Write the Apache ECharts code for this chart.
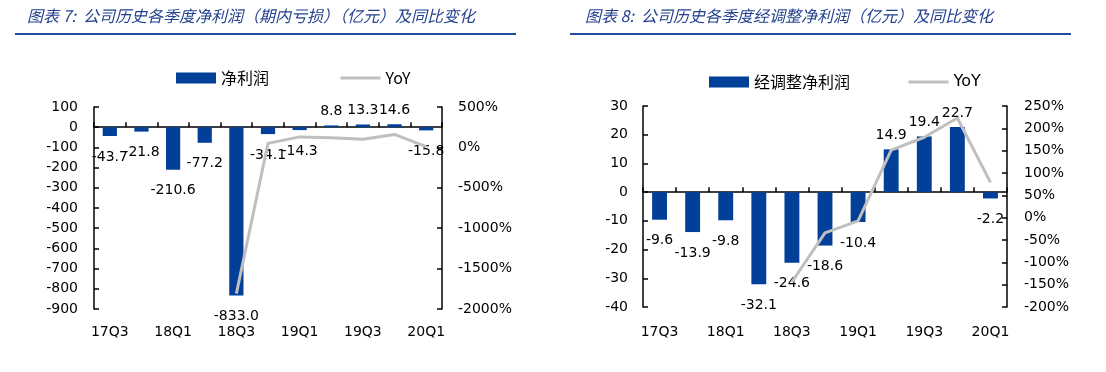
<!DOCTYPE html>
<html>
<head>
<meta charset="utf-8">
<script src="https://cdn.jsdelivr.net/npm/echarts@6/dist/echarts.min.js"></script>
<style>
html,body{margin:0;padding:0;background:#fff;}
#c{width:1106px;height:372px;}
</style>
</head>
<body>
<div id="c"></div>
<script>
// ---- data ----
const categories = ['17Q3','17Q4','18Q1','18Q2','18Q3','18Q4','19Q1','19Q2','19Q3','19Q4','20Q1'];
const netProfit = [-43.7, -21.8, -210.6, -77.2, -833.0, -34.1, -14.3, 8.8, 13.3, 14.6, -15.8];
const netProfitYoY = [null, null, null, null, -1810, 50, 130, 120, 100, 160, 10];
const adjProfit = [-9.6, -13.9, -9.8, -32.1, -24.6, -18.6, -10.4, 14.9, 19.4, 22.7, -2.2];
const adjProfitYoY = [null, null, null, null, -144, -34, -7, 151, 180, 223, 79];
const chart1LeftTicks = [-900, -800, -700, -600, -500, -400, -300, -200, -100, 0, 100];
const chart1RightTicks = [-2000, -1500, -1000, -500, 0, 500];
const chart2LeftTicks = [-40, -30, -20, -10, 0, 10, 20, 30];
const chart2RightTicks = [-200, -150, -100, -50, 0, 50, 100, 150, 200, 250];
const title1 = '图表 7:  公司历史各季度净利润（期内亏损）（亿元）及同比变化';
const title2 = '图表 8:  公司历史各季度经调整净利润（亿元）及同比变化';
const barName1 = '净利润';
const barName2 = '经调整净利润';
const lineName = 'YoY';

// ---- styles ----
const BAR = '#023F99';
const LINE = '#BFBFBF';
const TITLE = '#23418F';
const FONT = '"DejaVu Sans", Verdana, sans-serif';
const CJK = '"Noto Sans CJK SC", "Noto Sans", sans-serif';

function range(t){ return {min: t[0], max: t[t.length-1], interval: t[1]-t[0]}; }

function valueAxis(grid, ticks, pos, fmt, margin){
  const r = range(ticks);
  return {
    type: 'value', gridIndex: grid, position: pos,
    min: r.min, max: r.max, interval: r.interval,
    splitLine: {show: false},
    axisLine: {show: true, lineStyle: {color: '#000', width: 1.5}},
    axisTick: {show: true, inside: true, length: 5, lineStyle: {color: '#000', width: 1.5}},
    axisLabel: {color: '#000', fontSize: 14, fontFamily: FONT, margin: margin, formatter: fmt}
  };
}
function zeroAxis(grid, yIndex){
  return {
    type: 'category', gridIndex: grid, data: categories, position: 'bottom',
    axisLine: {show: true, onZero: true, onZeroAxisIndex: yIndex, lineStyle: {color: '#000', width: 1.5}},
    axisTick: {show: true, inside: true, length: 5, interval: 0, lineStyle: {color: '#000', width: 1.5}},
    axisLabel: {show: false}
  };
}
function labelAxis(grid, margin){
  return {
    type: 'category', gridIndex: grid, data: categories, position: 'bottom',
    axisLine: {show: false, onZero: false}, axisTick: {show: false},
    axisLabel: {show: true, interval: 1, color: '#000', fontSize: 14, fontFamily: FONT, margin: margin}
  };
}
function barData(vals, dNeg, dPos){
  return vals.map(v => ({
    value: v,
    label: {position: v < 0 ? 'bottom' : 'top', distance: v < 0 ? dNeg : dPos}
  }));
}
function barSeries(name, vals, xi, yi){
  return {
    name: name, type: 'bar', xAxisIndex: xi, yAxisIndex: yi,
    data: barData(vals, 14, 7), barWidth: '45%',
    itemStyle: {color: BAR},
    label: {show: true, color: '#000', fontSize: 14, fontFamily: FONT,
      formatter: p => Number(p.value).toFixed(1)},
    z: 2
  };
}
function lineSeries(vals, xi, yi){
  return {
    name: lineName, type: 'line', xAxisIndex: xi, yAxisIndex: yi,
    data: vals, symbol: 'none', connectNulls: false,
    lineStyle: {color: LINE, width: 3}, itemStyle: {color: LINE}, z: 3
  };
}
const pct = v => v + '%';
const yoyLegendItem = {name: lineName, itemStyle: {opacity: 0}, lineStyle: {width: 3, color: LINE}};

const option = {
  animation: false,
  backgroundColor: '#fff',
  graphic: [
    {type: 'text', left: 27, top: 8, style: {text: title1, fill: TITLE, font: 'italic 16px ' + CJK}},
    {type: 'rect', shape: {x: 15, y: 33, width: 501, height: 2}, style: {fill: '#1F4C9B'}},
    {type: 'text', left: 585, top: 8, style: {text: title2, fill: TITLE, font: 'italic 16px ' + CJK}},
    {type: 'rect', shape: {x: 570, y: 33, width: 501, height: 2}, style: {fill: '#1F4C9B'}}
  ],
  legend: [
    {left: 171, top: 65, itemWidth: 40, itemHeight: 11, itemGap: 70,
     data: [{name: barName1, icon: 'rect'}, yoyLegendItem],
     textStyle: {fontSize: 16, color: '#000', fontFamily: CJK}},
    {left: 704, top: 69, itemWidth: 40, itemHeight: 11,
     data: [{name: barName2, icon: 'rect'}],
     textStyle: {fontSize: 16, color: '#000', fontFamily: CJK}},
    {left: 902, top: 69, itemWidth: 40, itemHeight: 11,
     data: [yoyLegendItem],
     textStyle: {fontSize: 16, color: '#000', fontFamily: FONT}}
  ],
  grid: [
    {left: 94, right: 664, top: 107, bottom: 63, containLabel: false},
    {left: 643, right: 99, top: 106, bottom: 65, containLabel: false}
  ],
  xAxis: [zeroAxis(0, 0), labelAxis(0, 16), zeroAxis(1, 2), labelAxis(1, 18)],
  yAxis: [
    valueAxis(0, chart1LeftTicks, 'left', null, 16),
    valueAxis(0, chart1RightTicks, 'right', pct, 16),
    valueAxis(1, chart2LeftTicks, 'left', null, 15),
    valueAxis(1, chart2RightTicks, 'right', pct, 17)
  ],
  series: [
    barSeries(barName1, netProfit, 0, 0),
    lineSeries(netProfitYoY, 0, 1),
    barSeries(barName2, adjProfit, 2, 2),
    lineSeries(adjProfitYoY, 2, 3)
  ]
};

const chart = echarts.init(document.getElementById('c'), null, {renderer: 'canvas'});
chart.setOption(option);
</script>
</body>
</html>
